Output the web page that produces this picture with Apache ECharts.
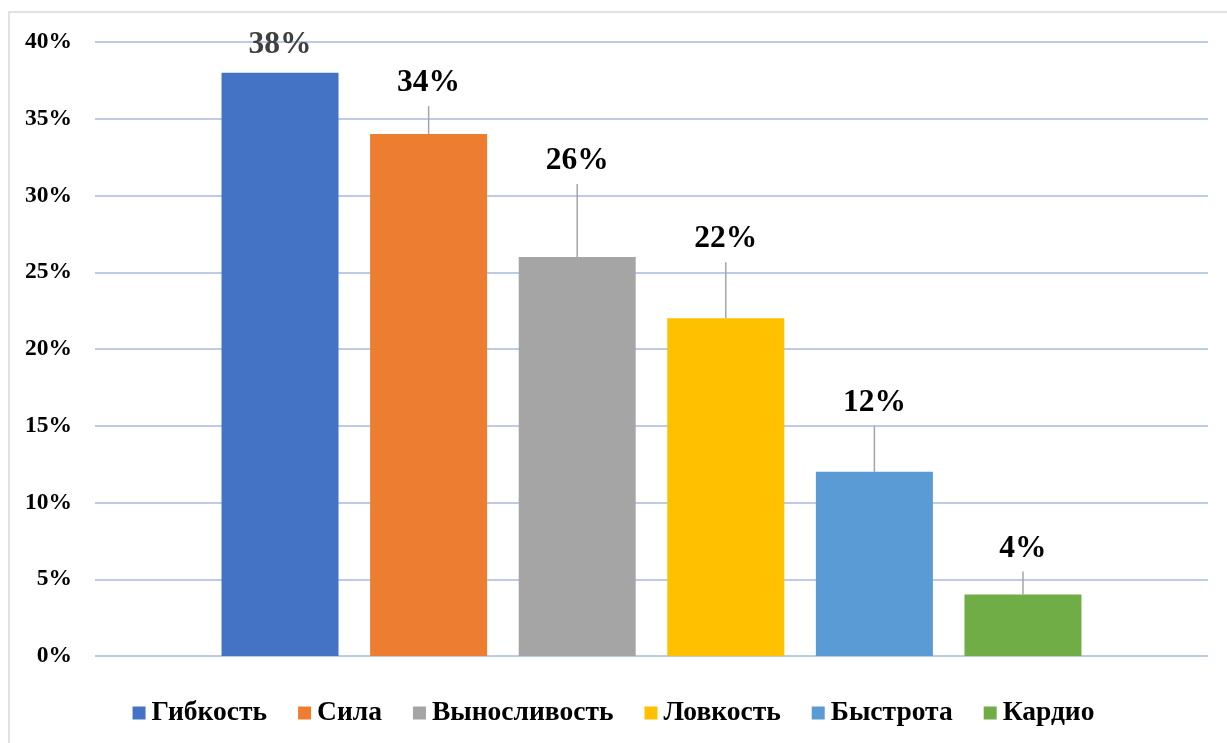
<!DOCTYPE html>
<html>
<head>
<meta charset="utf-8">
<script src="https://cdn.jsdelivr.net/npm/echarts@6/dist/echarts.min.js"></script>
<style>
  html, body { margin: 0; padding: 0; background: #fff; }
  #chart { width: 1227px; height: 743px; }
</style>
</head>
<body>
<div id="chart"></div>
<script>
// Доля выбранных направлений тренировок, %
const categories = ['Гибкость', 'Сила', 'Выносливость', 'Ловкость', 'Быстрота', 'Кардио'];
const values = [38, 34, 26, 22, 12, 4];
const colors = ['#4472c4', '#ed7d31', '#a5a5a5', '#ffc000', '#5b9bd5', '#70ad47'];
const yTicks = { min: 0, max: 40, interval: 5 };

// how far each value label is lifted above its bar (px)
const labelLift = [-10, -33, -78, -61, -51, -28];

const FONT = '"Liberation Serif", "Times New Roman", serif';

const chart = echarts.init(document.getElementById('chart'), null, { renderer: 'canvas' });

const series = categories.map((name, i) => ({
  name: name,
  type: 'bar',
  data: [values[i]],
  barWidth: 117,
  barGap: '27%',
  itemStyle: { color: colors[i] },
  label: {
    show: true,
    position: 'top',
    distance: 0,
    // second, empty line keeps the leader line a little clear of the text
    formatter: '{v|{c}%}\n{g|}',
    rich: {
      v: {
        fontFamily: FONT,
        fontWeight: 'bold',
        fontSize: 31.5,
        color: i === 0 ? '#404040' : '#000'
      },
      g: { height: 2, lineHeight: 2 }
    }
  },
  labelLayout: { dy: labelLift[i] },
  labelLine: {
    show: i !== 0,
    lineStyle: { color: '#a5a5a5', width: 1.5 }
  }
}));

chart.setOption({
  animation: false,
  backgroundColor: '#fff',
  graphic: [{
    type: 'rect',
    shape: { x: 9, y: 12, width: 1300, height: 800 },
    style: { fill: 'none', stroke: '#d9d9d9', lineWidth: 1.5 },
    silent: true,
    z: -1
  }],
  grid: { left: 95, right: 19, top: 42, bottom: 87 },
  legend: {
    bottom: 11,
    left: 'center',
    icon: 'rect',
    itemWidth: 13,
    itemHeight: 13,
    itemGap: 31,
    textStyle: { fontFamily: FONT, fontWeight: 'bold', fontSize: 27.5, color: '#000', padding: [0, 0, 0, 1] },
    data: categories
  },
  xAxis: {
    type: 'category',
    data: [''],
    axisLine: { show: false },
    axisTick: { show: false },
    axisLabel: { show: false }
  },
  yAxis: {
    type: 'value',
    min: yTicks.min,
    max: yTicks.max,
    interval: yTicks.interval,
    axisLine: { show: false },
    axisTick: { show: false },
    axisLabel: {
      formatter: '{value}%',
      margin: 23,
      fontFamily: FONT,
      fontWeight: 'bold',
      fontSize: 23.5,
      color: '#000'
    },
    splitLine: { lineStyle: { color: '#bccbe6', width: 2 } }
  },
  series: series
});
</script>
</body>
</html>
